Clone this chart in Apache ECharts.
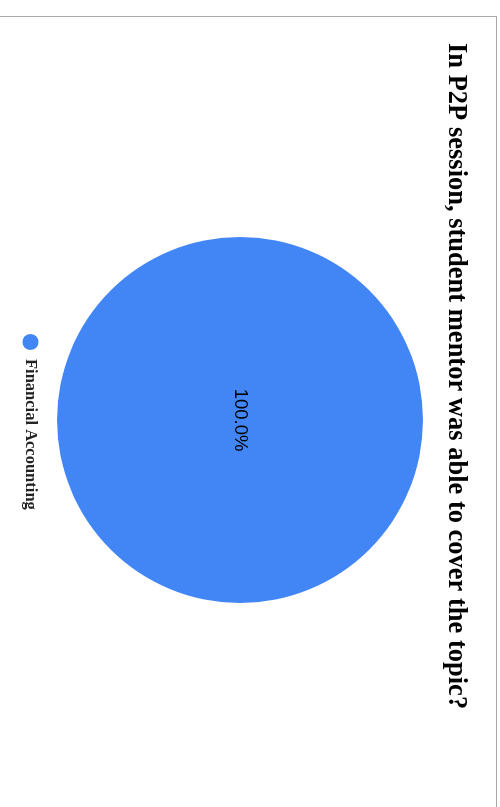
<!DOCTYPE html>
<html><head><meta charset="utf-8">
<script src="https://cdn.jsdelivr.net/npm/echarts@6/dist/echarts.min.js"></script>
<style>
html,body{margin:0;padding:0;width:500px;height:807px;overflow:hidden;background:#fff;}
#wrap{position:absolute;left:497px;top:16px;width:806px;height:500px;border:1px solid #aaaaaa;transform-origin:0 0;transform:rotate(90deg);background:#fff;}
#chart{width:806px;height:500px;}
</style></head>
<body>
<div id="wrap"><div id="chart"></div></div>
<script>
const titleText = "In P2P session, student mentor was able to cover the topic?";
const categories = ["Financial Accounting"];
const values = [1];
const colors = ["#4285F4"];

const chart = echarts.init(document.getElementById('chart'));
chart.setOption({
  animation:false,
  title:{text:titleText,left:21,top:22,textStyle:{fontFamily:'Liberation Serif',fontWeight:'bold',fontSize:26.5,color:'#000'}},
  legend:{data:categories,left:312,top:452,itemWidth:16,itemHeight:16,icon:'circle',
    textStyle:{fontFamily:'Liberation Serif',fontWeight:'bold',fontSize:16.5,color:'#222',padding:[0,0,0,4]}},
  series:[{type:'pie',center:[403,256],radius:183,
    data:categories.map((c,i)=>({name:c,value:values[i],itemStyle:{color:colors[i]}})),
    label:{show:true,position:'center',formatter:p=>p.percent.toFixed(1)+'%',
      fontFamily:'Liberation Sans',fontSize:18.5,color:'#000'},
    labelLine:{show:false},
    emphasis:{disabled:true}}]
});
</script>
</body></html>
